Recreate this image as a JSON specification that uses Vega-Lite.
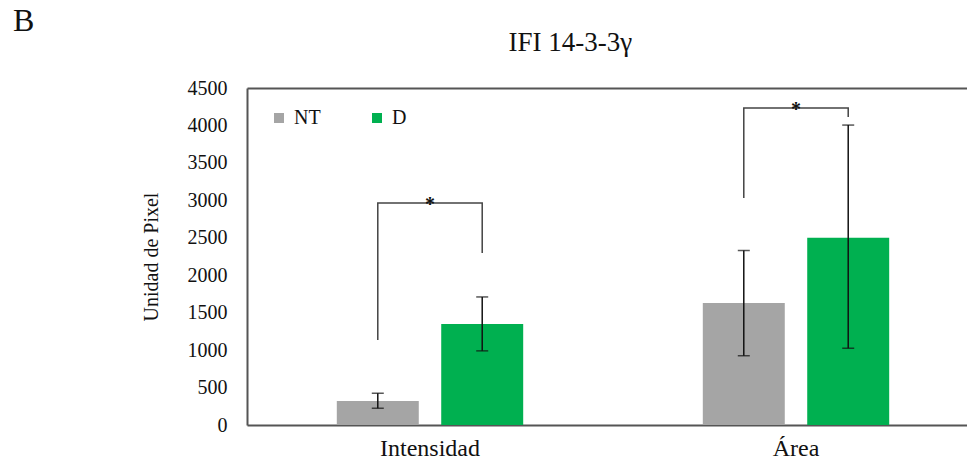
{
  "$schema": "https://vega.github.io/schema/vega-lite/v6.json",
  "width": 720,
  "height": 337,
  "autosize": {"type": "none"},
  "padding": {"left": 247, "top": 88, "right": 0, "bottom": 43},
  "background": "white",
  "title": {
    "text": "B",
    "anchor": "start",
    "frame": "group",
    "dx": -234,
    "dy": 14,
    "font": "Liberation Serif",
    "fontSize": 32,
    "fontWeight": "normal",
    "color": "#111111"
  },
  "config": {
    "view": {"stroke": null},
    "font": "Liberation Serif",
    "axis": {"grid": false, "labelFont": "Liberation Serif", "titleFont": "Liberation Serif"},
    "legend": {"labelFont": "Liberation Serif", "titleFont": "Liberation Serif"},
    "text": {"font": "Liberation Serif"}
  },
  "datasets": {
    "barras": [
      {"grupo": "Intensidad", "serie": "NT", "valor": 320, "lo": 225, "hi": 425},
      {"grupo": "Intensidad", "serie": "D", "valor": 1350, "lo": 990, "hi": 1710},
      {"grupo": "Área", "serie": "NT", "valor": 1630, "lo": 925, "hi": 2330},
      {"grupo": "Área", "serie": "D", "valor": 2500, "lo": 1025, "hi": 4005}
    ],
    "corchetes": [
      {"grupo": "Intensidad", "serie": "NT", "orden": 1, "y": 1135},
      {"grupo": "Intensidad", "serie": "NT", "orden": 2, "y": 2964},
      {"grupo": "Intensidad", "serie": "D", "orden": 3, "y": 2964},
      {"grupo": "Intensidad", "serie": "D", "orden": 4, "y": 2296},
      {"grupo": "Área", "serie": "NT", "orden": 1, "y": 3031},
      {"grupo": "Área", "serie": "NT", "orden": 2, "y": 4232},
      {"grupo": "Área", "serie": "D", "orden": 3, "y": 4232},
      {"grupo": "Área", "serie": "D", "orden": 4, "y": 4112}
    ],
    "estrellas": [
      {"grupo": "Intensidad", "y": 2964, "txt": "*"},
      {"grupo": "Área", "y": 4232, "txt": "*"}
    ]
  },
  "resolve": {"axis": {"x": "independent"}},
  "layer": [
    {
      "data": {"name": "barras"},
      "mark": {"type": "bar"},
      "encoding": {
        "x": {
          "field": "grupo", "type": "nominal", "sort": ["Intensidad", "Área"],
          "scale": {"range": [0, 732], "paddingInner": 0, "paddingOuter": 0},
          "axis": {
            "orient": "bottom", "title": null, "labelAngle": 0, "ticks": false,
            "domainColor": "#555555", "domainWidth": 2,
            "labelFont": "Times New Roman",
            "labelFontSize": 24, "labelColor": "#111111", "labelPadding": 11
          }
        },
        "xOffset": {
          "field": "serie", "type": "nominal", "sort": ["NT", "D"],
          "scale": {"paddingInner": 0.215, "paddingOuter": 0.86}
        },
        "y": {
          "field": "valor", "type": "quantitative",
          "scale": {"domain": [0, 4500], "nice": false},
          "axis": {
            "title": "Unidad de Pixel", "values": [0, 500, 1000, 1500, 2000, 2500, 3000, 3500, 4000, 4500],
            "format": "d", "labelOverlap": false,
            "ticks": false, "domainColor": "#555555", "domainWidth": 2,
            "labelFont": "Liberation Serif", "titleFont": "Liberation Serif",
            "labelFontSize": 20, "labelColor": "#111111", "labelPadding": 20,
            "titleFontSize": 20, "titleFontWeight": "normal", "titleColor": "#111111", "titlePadding": 26
          }
        },
        "color": {
          "field": "serie", "type": "nominal", "sort": ["NT", "D"],
          "scale": {"domain": ["NT", "D"], "range": ["#a5a5a5", "#00b050"]},
          "legend": {
            "title": null, "orient": "none", "legendX": 22, "legendY": 20,
            "direction": "horizontal", "symbolType": "square", "symbolSize": 100,
            "labelFont": "Times New Roman",
            "labelFontSize": 20, "labelColor": "#111111", "labelOffset": 5, "columnPadding": 46,
            "symbolStrokeWidth": 0
          }
        }
      }
    },
    {
      "data": {"name": "barras"},
      "mark": {"type": "rule", "color": "#111111", "strokeWidth": 1.5},
      "encoding": {
        "x": {"field": "grupo", "type": "nominal", "sort": ["Intensidad", "Área"], "axis": null},
        "xOffset": {"field": "serie", "type": "nominal", "sort": ["NT", "D"]},
        "y": {
          "field": "lo", "type": "quantitative",
          "axis": {
            "title": "Unidad de Pixel", "values": [0, 500, 1000, 1500, 2000, 2500, 3000, 3500, 4000, 4500],
            "format": "d", "labelOverlap": false
          }
        },
        "y2": {"field": "hi"}
      }
    },
    {
      "data": {"name": "barras"},
      "mark": {"type": "tick", "color": "#111111", "thickness": 1.5, "size": 12},
      "encoding": {
        "x": {"field": "grupo", "type": "nominal", "sort": ["Intensidad", "Área"], "axis": null},
        "xOffset": {"field": "serie", "type": "nominal", "sort": ["NT", "D"]},
        "y": {
          "field": "lo", "type": "quantitative",
          "axis": {
            "title": "Unidad de Pixel", "values": [0, 500, 1000, 1500, 2000, 2500, 3000, 3500, 4000, 4500],
            "format": "d", "labelOverlap": false
          }
        }
      }
    },
    {
      "data": {"name": "barras"},
      "mark": {"type": "tick", "color": "#111111", "thickness": 1.5, "size": 12},
      "encoding": {
        "x": {"field": "grupo", "type": "nominal", "sort": ["Intensidad", "Área"], "axis": null},
        "xOffset": {"field": "serie", "type": "nominal", "sort": ["NT", "D"]},
        "y": {
          "field": "hi", "type": "quantitative",
          "axis": {
            "title": "Unidad de Pixel", "values": [0, 500, 1000, 1500, 2000, 2500, 3000, 3500, 4000, 4500],
            "format": "d", "labelOverlap": false
          }
        }
      }
    },
    {
      "data": {"name": "corchetes"},
      "mark": {"type": "line", "color": "#444444", "strokeWidth": 1.5},
      "encoding": {
        "x": {
          "field": "grupo", "type": "nominal", "sort": ["Intensidad", "Área"],
          "axis": {
            "orient": "top", "labels": false, "ticks": false,
            "domainColor": "#555555", "domainWidth": 2,
            "title": "IFI 14-3-3γ", "titleFont": "Liberation Serif", "titleFontSize": 27, "titleFontWeight": "normal",
            "titleColor": "#111111", "titleAlign": "left", "titleAnchor": "start",
            "titleX": 261, "titleY": -38, "titleBaseline": "alphabetic"
          }
        },
        "xOffset": {"field": "serie", "type": "nominal", "sort": ["NT", "D"]},
        "y": {
          "field": "y", "type": "quantitative",
          "axis": {
            "title": "Unidad de Pixel", "values": [0, 500, 1000, 1500, 2000, 2500, 3000, 3500, 4000, 4500],
            "format": "d", "labelOverlap": false
          }
        },
        "detail": {"field": "grupo"},
        "order": {"field": "orden"}
      }
    },
    {
      "data": {"name": "estrellas"},
      "mark": {"type": "text", "font": "Liberation Serif", "fontSize": 20, "fontWeight": "bold", "baseline": "alphabetic", "dy": 8, "color": "#111111"},
      "encoding": {
        "x": {"field": "grupo", "type": "nominal", "sort": ["Intensidad", "Área"], "axis": null},
        "y": {
          "field": "y", "type": "quantitative",
          "axis": {
            "title": "Unidad de Pixel", "values": [0, 500, 1000, 1500, 2000, 2500, 3000, 3500, 4000, 4500],
            "format": "d", "labelOverlap": false
          }
        },
        "text": {"field": "txt"}
      }
    }
  ]
}
